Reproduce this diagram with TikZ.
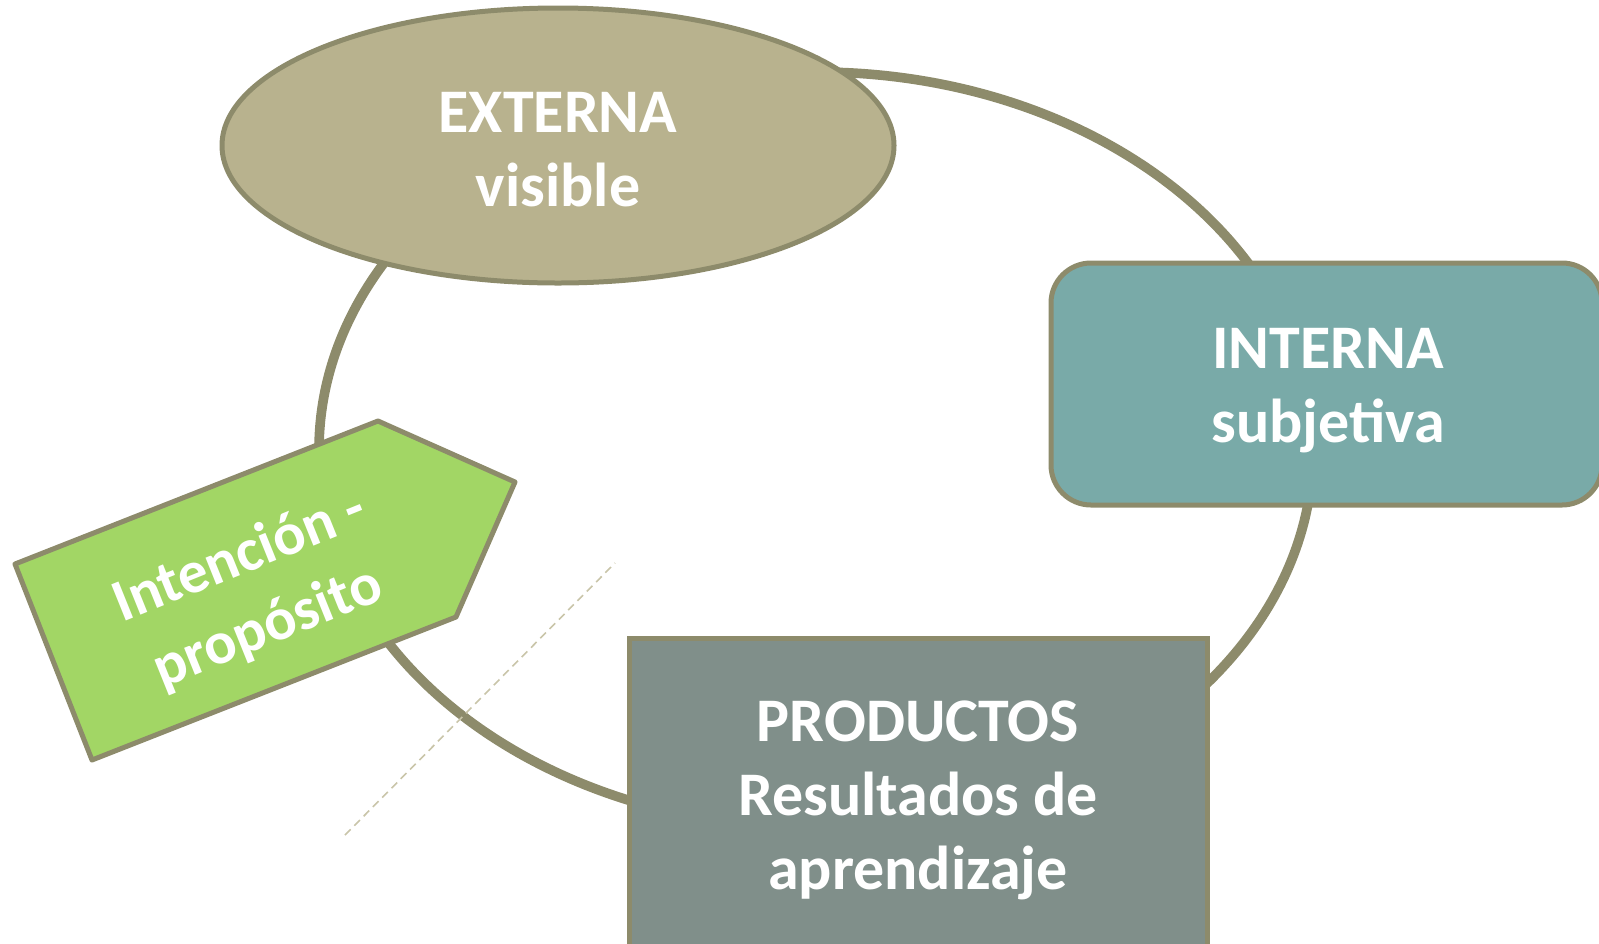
\documentclass[tikz,border=0pt]{standalone}
\usepackage{fontspec}
\setmainfont{Carlito}
\usetikzlibrary{shapes.geometric}
\definecolor{olivebd}{RGB}{141,139,107}
\definecolor{extfill}{RGB}{184,178,142}
\definecolor{intfill}{RGB}{121,170,168}
\definecolor{prodfill}{RGB}{128,143,138}
\definecolor{greenfill}{RGB}{162,214,101}
\definecolor{dashcol}{RGB}{201,197,169}
\tikzset{
  ringline/.style={draw=olivebd, line width=4.8pt},
  label/.style={text=white, font=\bfseries\fontsize{31}{37}\selectfont, align=center, inner sep=0pt},
  shapebd/.style={draw=olivebd, line width=2.5pt},
  guide/.style={draw=dashcol, line width=0.8pt, dash pattern=on 4pt off 2.6pt}
}
\begin{document}
\begin{tikzpicture}[x=0.5pt,y=-0.5pt]
\useasboundingbox (0,0) rectangle (1599,943);
% cycle ring
\draw[ringline] (816,450) ellipse [x radius=497, y radius=378];
% EXTERNA ellipse
\node[ellipse, shapebd, fill=extfill, minimum width=336pt, minimum height=137.5pt, inner sep=0pt] (ext) at (558,145.5) {};
\node[label] (extt) at (558,150) {EXTERNA\\visible};
% INTERNA rounded box
\node[rectangle, rounded corners=20pt, shapebd, fill=intfill, minimum width=275.5pt, minimum height=121pt] (int) at (1326.5,384) {};
\node[label] (intt) at (1328,391) {INTERNA\\subjetiva};
% PRODUCTOS box
\node[rectangle, shapebd, fill=prodfill, minimum width=289pt, minimum height=164pt] (prod) at (918,802) {};
\node[label] (prodt) at (918,800) {PRODUCTOS\\Resultados de\\aprendizaje};
% green pentagon
\coordinate (g1) at (15,564);
\coordinate (g2) at (378,421);
\coordinate (g3) at (515,482);
\coordinate (g4) at (456,617);
\coordinate (g5) at (92,760);
\draw[shapebd, fill=greenfill, line join=round] (g1) -- (g2) -- (g3) -- (g4) -- (g5) -- cycle;
\node[label, rotate=22, font=\bfseries\fontsize{30}{38}\selectfont] (intent) at (254,593) {Intención -\\propósito};
% dashed guide
\coordinate (d1) at (345,835);
\coordinate (d2) at (615,563);
\draw[guide] (d1) -- (d2);
\end{tikzpicture}
\end{document}
